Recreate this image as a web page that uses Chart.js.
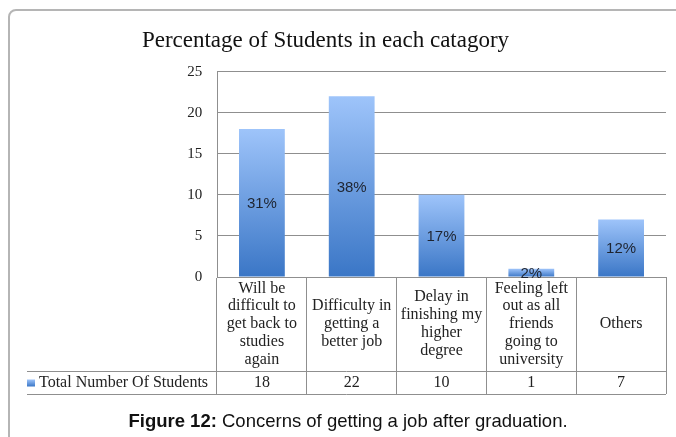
<!DOCTYPE html>
<html lang="en">
<head>
<meta charset="UTF-8" />
<title>Concerns of getting a job after graduation</title>
<script src="https://cdn.jsdelivr.net/npm/chart.js"></script>
<style>
  body {
    margin: 0;
    background: #fff;
    width: 676px;
    height: 437px;
    overflow: hidden;
    position: relative;
  }
  .frame {
    position: absolute;
    left: 8px;
    top: 9px;
    width: 720px;
    height: 460px;
    border: 2px solid #b5b5b5;
    border-radius: 8px;
  }
  #concernsChart {
    position: absolute;
    left: 0;
    top: 0;
  }
  .caption {
    position: absolute;
    left: 0;
    width: 696px;
    top: 412px;
    text-align: center;
    font-family: 'Liberation Sans', Arial, sans-serif;
    font-size: 18.5px;
    line-height: 18.5px;
    color: #111;
    white-space: nowrap;
  }
</style>
</head>
<body>

<div class="frame"></div>
<canvas id="concernsChart" width="676" height="437"></canvas>
<div class="caption"><b>Figure 12:</b> Concerns of getting a job after graduation.</div>

<script>
  const chartTitle = 'Percentage of Students in each catagory';
  const seriesLabel = 'Total Number Of Students';

  // category names, already broken into lines as they appear in the table
  const categories = [
    ['Will be', 'difficult to', 'get back to', 'studies', 'again'],
    ['Difficulty in', 'getting a', 'better job'],
    ['Delay in', 'finishing my', 'higher', 'degree'],
    ['Feeling left', 'out as all', 'friends', 'going to', 'university'],
    ['Others']
  ];
  const students = [18, 22, 10, 1, 7];

  const yMin = 0;
  const yMax = 25;
  const yStep = 5;

  const total = students.reduce((a, b) => a + b, 0);
  const percentLabels = students.map(v => Math.round(v * 100 / total) + '%');

  const serif = "'Liberation Serif', 'Times New Roman', serif";
  const sans = "'Liberation Sans', Arial, sans-serif";
  const lineColor = '#8f8f8f';
  const textColor = '#222';

  // heights of the two table rows under the plot
  const nameRowHeight = 94;
  const tableHeight = 117;

  function blueGradient(ctx, top, bottom) {
    const g = ctx.createLinearGradient(0, top, 0, bottom);
    g.addColorStop(0, '#9ec4fa');
    g.addColorStop(1, '#3a76c6');
    return g;
  }

  // percentage written in the middle of each bar
  const barValueLabels = {
    id: 'barValueLabels',
    afterDatasetsDraw(chart) {
      const { ctx } = chart;
      const meta = chart.getDatasetMeta(0);
      ctx.save();
      ctx.font = '15px ' + sans;
      ctx.fillStyle = '#1e2430';
      ctx.textAlign = 'center';
      ctx.textBaseline = 'middle';
      meta.data.forEach((bar, i) => {
        ctx.fillText(percentLabels[i], bar.x, (bar.y + bar.base) / 2 + 1);
      });
      ctx.restore();
    }
  };

  // data table row with the series name and the counts
  const dataTable = {
    id: 'dataTable',
    afterDraw(chart) {
      const { ctx, chartArea } = chart;
      const xs = chart.scales.x;
      const left = 27;
      const splitY = Math.round(xs.top + nameRowHeight) + 0.5;
      const bottomY = Math.round(xs.top + tableHeight) + 0.5;
      const midY = (splitY + bottomY) / 2;

      ctx.save();
      ctx.strokeStyle = lineColor;
      ctx.lineWidth = 1;
      ctx.beginPath();
      ctx.moveTo(left, splitY);
      ctx.lineTo(chartArea.right, splitY);
      ctx.moveTo(left, bottomY);
      ctx.lineTo(chartArea.right, bottomY);
      ctx.stroke();

      ctx.fillStyle = blueGradient(ctx, midY - 3.5, midY + 3.5);
      ctx.fillRect(left, midY - 3.5, 8, 7);

      ctx.font = '16px ' + serif;
      ctx.fillStyle = textColor;
      ctx.textBaseline = 'middle';
      ctx.textAlign = 'left';
      ctx.fillText(seriesLabel, left + 12, midY);

      ctx.textAlign = 'center';
      students.forEach((v, i) => {
        ctx.fillText(String(v), xs.getPixelForValue(i), midY);
      });
      ctx.restore();
    }
  };

  const ctx = document.getElementById('concernsChart').getContext('2d');

  new Chart(ctx, {
    type: 'bar',
    data: {
      labels: categories,
      datasets: [{
        label: seriesLabel,
        data: students,
        backgroundColor: c => {
          const chart = c.chart;
          if (!chart.chartArea || c.type !== 'data') return '#6a9de0';
          const y = chart.scales.y;
          return blueGradient(chart.ctx, y.getPixelForValue(c.parsed.y), y.getPixelForValue(0));
        },
        borderWidth: 0,
        barPercentage: 0.51,
        categoryPercentage: 1
      }]
    },
    options: {
      responsive: false,
      devicePixelRatio: 1,
      animation: false,
      layout: {
        padding: { left: -15, right: 10, top: 0, bottom: 43 }
      },
      font: { family: serif },
      plugins: {
        legend: { display: false },
        tooltip: { enabled: false },
        title: {
          display: true,
          text: chartTitle,
          color: '#111',
          font: { family: serif, size: 23, weight: 'normal', lineHeight: 1.2 },
          padding: { top: 27.5, bottom: 16.5 }
        }
      },
      scales: {
        x: {
          offset: true,
          grid: { offset: true, drawOnChartArea: false, tickLength: tableHeight, color: lineColor },
          border: { color: lineColor },
          ticks: {
            autoSkip: false,
            maxRotation: 0,
            crossAlign: 'center',
            padding: -105.6,
            color: textColor,
            font: { family: serif, size: 16, lineHeight: 1.11 }
          },
          afterFit(scale) { scale.height = tableHeight; }
        },
        y: {
          min: yMin,
          max: yMax,
          ticks: {
            stepSize: yStep,
            padding: 14.7,
            color: textColor,
            font: { family: serif, size: 15 }
          },
          grid: { color: lineColor, drawTicks: false },
          border: { color: lineColor },
          afterFit(scale) { scale.width = 232; }
        }
      }
    },
    plugins: [barValueLabels, dataTable]
  });
</script>

</body>
</html>
